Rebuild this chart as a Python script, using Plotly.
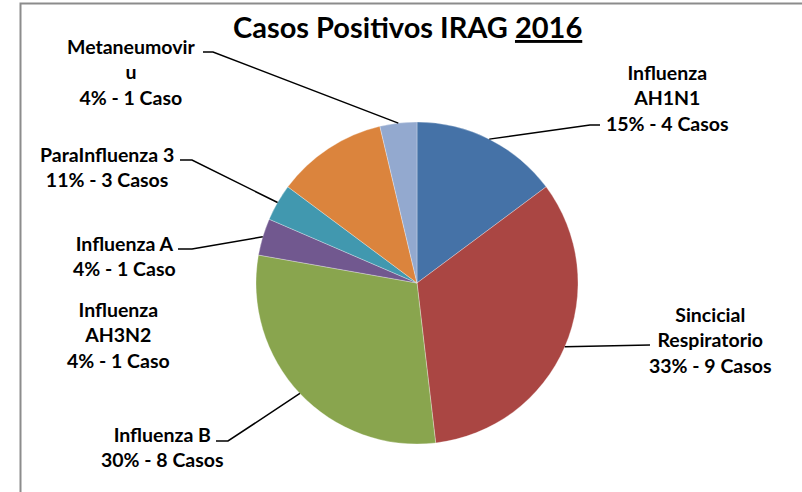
import math
import plotly.graph_objects as go

W, H = 802, 492

# ---- data ----
categorias = ["Influenza AH1N1", "Sincicial Respiratorio", "Influenza B",
              "Influenza AH3N2", "Influenza A", "ParaInfluenza 3", "Metaneumovirus"]
casos = [4, 9, 8, 1, 1, 3, 1]
nombres_mostrados = ["Influenza<br>AH1N1", "Sincicial<br>Respiratorio", "Influenza B",
                     "Influenza<br>AH3N2", "Influenza A", "ParaInfluenza 3", "Metaneumovir<br>u"]
colores = ["#4572A7", "#AA4643", "#89A54E", "#71588F", "#4198AF", "#DB843D", "#93A9CF"]

# ---- layout (pixels) ----
cx, cy, R = 417, 283, 161
label_pos = [(667, 98), (710, 340), (162, 447), (118, 335), (124, 256), (107, 167), (131, 72)]
# slice each leader line points to (as drawn in the reference), and label-side elbow points
leader_target = [0, 1, 2, None, 3, 4, 6]
leader_elbow = [[(590, 125), (600, 125)], [(650, 345)], [(228, 441), (216, 441)], None,
                [(192, 249), (178, 249)], [(192, 160), (180, 160)], [(213, 52), (203, 52)]]

FONT = "Lato"
total = sum(casos)


def px(x):
    return x / W


def py(y):
    return 1 - y / H


fig = go.Figure(go.Pie(
    labels=categorias, values=casos, sort=False, direction="clockwise", rotation=0,
    marker=dict(colors=colores, line=dict(color="rgba(255,255,255,0.6)", width=0.5)),
    textinfo="none", hoverinfo="label+value+percent", showlegend=False,
    domain=dict(x=[px(cx - R), px(cx + R)], y=[py(cy + R), py(cy - R)]),
))

# mid angles of slices (clockwise from 12 o'clock)
mids = []
acc = 0
for v in casos:
    mids.append((acc + v / 2) / total * 2 * math.pi)
    acc += v

shapes = []
annotations = []
for i, (name, v) in enumerate(zip(nombres_mostrados, casos)):
    pct = round(100 * v / total)
    txt = f"{name}<br>{pct}% - {v} Caso{'s' if v > 1 else ''}"
    txt = "<b>" + txt.replace("<br>", "</b><br><b>") + "</b>"
    lx, ly = label_pos[i]
    annotations.append(dict(text=txt, x=px(lx), y=py(ly), xref="paper", yref="paper",
                            showarrow=False, xanchor="center", yanchor="middle", align="center",
                            font=dict(family=FONT, size=19.5, color="#000000")))
    t = leader_target[i]
    if t is not None:
        a = mids[t]
        sx, sy = cx + R * math.sin(a), cy - R * math.cos(a)
        pts = [(sx, sy)] + leader_elbow[i]
        path = "M " + " L ".join(f"{px(x)},{py(y)}" for x, y in pts)
        shapes.append(dict(type="path", path=path, xref="paper", yref="paper",
                           line=dict(color="#000000", width=1.5)))

# chart frame (partially visible)
shapes.append(dict(type="path", xref="paper", yref="paper",
                   path=f"M {px(20.5)},{py(500)} L {px(20.5)},{py(3.5)} L {px(810)},{py(3.5)}",
                   line=dict(color="#8C8C8C", width=2)))

annotations.append(dict(text="<b>Casos Positivos IRAG <u>2016</u></b>", x=px(408), y=py(26),
                        xref="paper", yref="paper", showarrow=False, xanchor="center",
                        yanchor="middle", font=dict(family=FONT, size=29, color="#000000")))

fig.update_layout(
    width=W, height=H, margin=dict(l=0, r=0, t=0, b=0),
    paper_bgcolor="white", plot_bgcolor="white",
    shapes=shapes, annotations=annotations,
    font=dict(family=FONT, color="#000000"),
)

fig.write_html("out.html", config={"displayModeBar": False},
               post_script="document.body.style.margin='0px';")
